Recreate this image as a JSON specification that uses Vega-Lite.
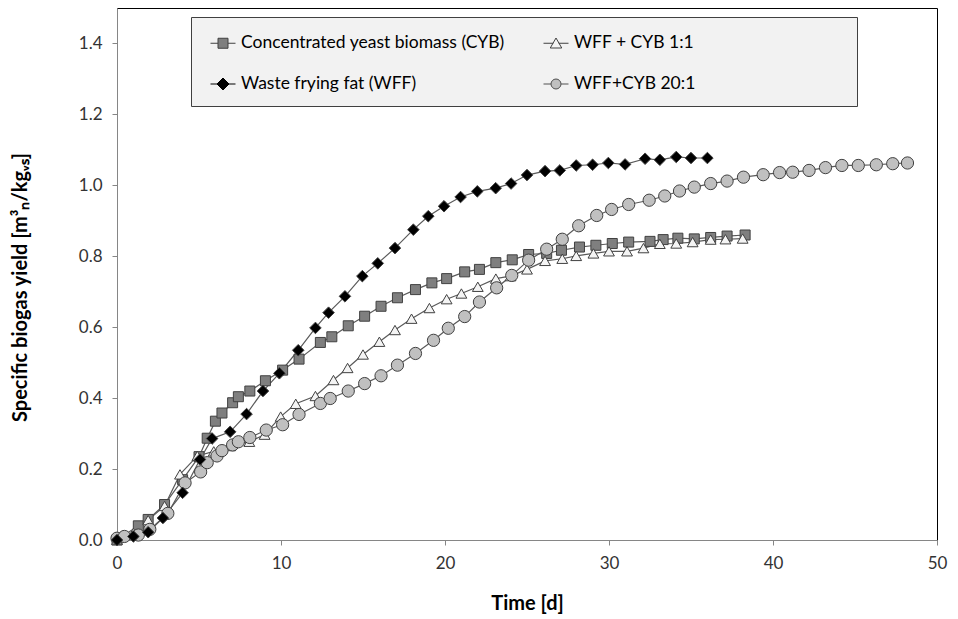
{
  "$schema": "https://vega.github.io/schema/vega-lite/v6.json",
  "width": 820,
  "height": 532,
  "autosize": {"type": "none"},
  "padding": {"left": 117, "top": 8, "right": 21, "bottom": 79},
  "background": "#ffffff",
  "config": {
    "font": "Lato",
    "view": {"stroke": "#000000", "strokeWidth": 1},
    "axis": {"grid": false, "domainColor": "#868686", "tickColor": "#868686", "tickSize": 5, "labelFontSize": 17, "labelColor": "#333333", "titleFontSize": 20, "titleFontWeight": "bold", "titleColor": "#000000", "labelFont": "Lato", "titleFont": "Lato", "labelFlush": false}
  },
  "datasets": {
    "curves": [
      {"s": "Concentrated yeast biomass (CYB)", "t": 0, "y": 0},
      {"s": "Concentrated yeast biomass (CYB)", "t": 1.3, "y": 0.04},
      {"s": "Concentrated yeast biomass (CYB)", "t": 1.9, "y": 0.058},
      {"s": "Concentrated yeast biomass (CYB)", "t": 2.9, "y": 0.1},
      {"s": "Concentrated yeast biomass (CYB)", "t": 4.0, "y": 0.17},
      {"s": "Concentrated yeast biomass (CYB)", "t": 5.0, "y": 0.235},
      {"s": "Concentrated yeast biomass (CYB)", "t": 5.5, "y": 0.287},
      {"s": "Concentrated yeast biomass (CYB)", "t": 6.0, "y": 0.335},
      {"s": "Concentrated yeast biomass (CYB)", "t": 6.4, "y": 0.358},
      {"s": "Concentrated yeast biomass (CYB)", "t": 7.05, "y": 0.387},
      {"s": "Concentrated yeast biomass (CYB)", "t": 7.4, "y": 0.404},
      {"s": "Concentrated yeast biomass (CYB)", "t": 8.1, "y": 0.42},
      {"s": "Concentrated yeast biomass (CYB)", "t": 9.05, "y": 0.449},
      {"s": "Concentrated yeast biomass (CYB)", "t": 10.1, "y": 0.479},
      {"s": "Concentrated yeast biomass (CYB)", "t": 11.1, "y": 0.51},
      {"s": "Concentrated yeast biomass (CYB)", "t": 12.4, "y": 0.557},
      {"s": "Concentrated yeast biomass (CYB)", "t": 13.1, "y": 0.573},
      {"s": "Concentrated yeast biomass (CYB)", "t": 14.1, "y": 0.604},
      {"s": "Concentrated yeast biomass (CYB)", "t": 15.1, "y": 0.631},
      {"s": "Concentrated yeast biomass (CYB)", "t": 16.1, "y": 0.659},
      {"s": "Concentrated yeast biomass (CYB)", "t": 17.1, "y": 0.683},
      {"s": "Concentrated yeast biomass (CYB)", "t": 18.2, "y": 0.706},
      {"s": "Concentrated yeast biomass (CYB)", "t": 19.2, "y": 0.725},
      {"s": "Concentrated yeast biomass (CYB)", "t": 20.1, "y": 0.737},
      {"s": "Concentrated yeast biomass (CYB)", "t": 21.2, "y": 0.756},
      {"s": "Concentrated yeast biomass (CYB)", "t": 22.1, "y": 0.763},
      {"s": "Concentrated yeast biomass (CYB)", "t": 23.1, "y": 0.782},
      {"s": "Concentrated yeast biomass (CYB)", "t": 24.1, "y": 0.79},
      {"s": "Concentrated yeast biomass (CYB)", "t": 25.1, "y": 0.805},
      {"s": "Concentrated yeast biomass (CYB)", "t": 26.2, "y": 0.808},
      {"s": "Concentrated yeast biomass (CYB)", "t": 27.1, "y": 0.817},
      {"s": "Concentrated yeast biomass (CYB)", "t": 28.2, "y": 0.826},
      {"s": "Concentrated yeast biomass (CYB)", "t": 29.2, "y": 0.831},
      {"s": "Concentrated yeast biomass (CYB)", "t": 30.2, "y": 0.836},
      {"s": "Concentrated yeast biomass (CYB)", "t": 31.2, "y": 0.84},
      {"s": "Concentrated yeast biomass (CYB)", "t": 32.5, "y": 0.842},
      {"s": "Concentrated yeast biomass (CYB)", "t": 33.3, "y": 0.847},
      {"s": "Concentrated yeast biomass (CYB)", "t": 34.2, "y": 0.851},
      {"s": "Concentrated yeast biomass (CYB)", "t": 35.2, "y": 0.849},
      {"s": "Concentrated yeast biomass (CYB)", "t": 36.2, "y": 0.853},
      {"s": "Concentrated yeast biomass (CYB)", "t": 37.2, "y": 0.857},
      {"s": "Concentrated yeast biomass (CYB)", "t": 38.3, "y": 0.86},

      {"s": "WFF + CYB 1:1", "t": 0, "y": 0},
      {"s": "WFF + CYB 1:1", "t": 1.0, "y": 0.02},
      {"s": "WFF + CYB 1:1", "t": 1.9, "y": 0.056},
      {"s": "WFF + CYB 1:1", "t": 2.9, "y": 0.096},
      {"s": "WFF + CYB 1:1", "t": 3.84, "y": 0.185},
      {"s": "WFF + CYB 1:1", "t": 4.9, "y": 0.237},
      {"s": "WFF + CYB 1:1", "t": 5.9, "y": 0.25},
      {"s": "WFF + CYB 1:1", "t": 6.9, "y": 0.265},
      {"s": "WFF + CYB 1:1", "t": 8.07, "y": 0.277},
      {"s": "WFF + CYB 1:1", "t": 9.0, "y": 0.297},
      {"s": "WFF + CYB 1:1", "t": 9.98, "y": 0.348},
      {"s": "WFF + CYB 1:1", "t": 10.9, "y": 0.384},
      {"s": "WFF + CYB 1:1", "t": 12.1, "y": 0.406},
      {"s": "WFF + CYB 1:1", "t": 13.2, "y": 0.451},
      {"s": "WFF + CYB 1:1", "t": 14.06, "y": 0.485},
      {"s": "WFF + CYB 1:1", "t": 15.0, "y": 0.523},
      {"s": "WFF + CYB 1:1", "t": 16.0, "y": 0.559},
      {"s": "WFF + CYB 1:1", "t": 16.95, "y": 0.592},
      {"s": "WFF + CYB 1:1", "t": 17.96, "y": 0.624},
      {"s": "WFF + CYB 1:1", "t": 19.05, "y": 0.654},
      {"s": "WFF + CYB 1:1", "t": 20.1, "y": 0.679},
      {"s": "WFF + CYB 1:1", "t": 21.0, "y": 0.695},
      {"s": "WFF + CYB 1:1", "t": 22.0, "y": 0.714},
      {"s": "WFF + CYB 1:1", "t": 23.1, "y": 0.737},
      {"s": "WFF + CYB 1:1", "t": 24.0, "y": 0.744},
      {"s": "WFF + CYB 1:1", "t": 25.0, "y": 0.763},
      {"s": "WFF + CYB 1:1", "t": 26.1, "y": 0.787},
      {"s": "WFF + CYB 1:1", "t": 27.15, "y": 0.793},
      {"s": "WFF + CYB 1:1", "t": 28.0, "y": 0.801},
      {"s": "WFF + CYB 1:1", "t": 29.05, "y": 0.808},
      {"s": "WFF + CYB 1:1", "t": 30.0, "y": 0.814},
      {"s": "WFF + CYB 1:1", "t": 31.1, "y": 0.814},
      {"s": "WFF + CYB 1:1", "t": 32.1, "y": 0.823},
      {"s": "WFF + CYB 1:1", "t": 33.1, "y": 0.835},
      {"s": "WFF + CYB 1:1", "t": 34.1, "y": 0.836},
      {"s": "WFF + CYB 1:1", "t": 35.1, "y": 0.84},
      {"s": "WFF + CYB 1:1", "t": 36.2, "y": 0.847},
      {"s": "WFF + CYB 1:1", "t": 37.1, "y": 0.848},
      {"s": "WFF + CYB 1:1", "t": 38.15, "y": 0.85},

      {"s": "WFF+CYB 20:1", "t": 0, "y": 0.005},
      {"s": "WFF+CYB 20:1", "t": 0.45, "y": 0.01},
      {"s": "WFF+CYB 20:1", "t": 1.3, "y": 0.014},
      {"s": "WFF+CYB 20:1", "t": 2.0, "y": 0.03},
      {"s": "WFF+CYB 20:1", "t": 3.1, "y": 0.075},
      {"s": "WFF+CYB 20:1", "t": 4.15, "y": 0.161},
      {"s": "WFF+CYB 20:1", "t": 5.1, "y": 0.192},
      {"s": "WFF+CYB 20:1", "t": 5.5, "y": 0.218},
      {"s": "WFF+CYB 20:1", "t": 6.1, "y": 0.237},
      {"s": "WFF+CYB 20:1", "t": 6.4, "y": 0.252},
      {"s": "WFF+CYB 20:1", "t": 7.05, "y": 0.268},
      {"s": "WFF+CYB 20:1", "t": 7.4, "y": 0.277},
      {"s": "WFF+CYB 20:1", "t": 8.1, "y": 0.289},
      {"s": "WFF+CYB 20:1", "t": 9.1, "y": 0.31},
      {"s": "WFF+CYB 20:1", "t": 10.1, "y": 0.325},
      {"s": "WFF+CYB 20:1", "t": 11.1, "y": 0.354},
      {"s": "WFF+CYB 20:1", "t": 12.4, "y": 0.385},
      {"s": "WFF+CYB 20:1", "t": 13.0, "y": 0.399},
      {"s": "WFF+CYB 20:1", "t": 14.1, "y": 0.42},
      {"s": "WFF+CYB 20:1", "t": 15.1, "y": 0.441},
      {"s": "WFF+CYB 20:1", "t": 16.1, "y": 0.463},
      {"s": "WFF+CYB 20:1", "t": 17.1, "y": 0.493},
      {"s": "WFF+CYB 20:1", "t": 18.2, "y": 0.526},
      {"s": "WFF+CYB 20:1", "t": 19.3, "y": 0.563},
      {"s": "WFF+CYB 20:1", "t": 20.2, "y": 0.597},
      {"s": "WFF+CYB 20:1", "t": 21.2, "y": 0.63},
      {"s": "WFF+CYB 20:1", "t": 22.1, "y": 0.671},
      {"s": "WFF+CYB 20:1", "t": 23.15, "y": 0.711},
      {"s": "WFF+CYB 20:1", "t": 24.07, "y": 0.746},
      {"s": "WFF+CYB 20:1", "t": 25.1, "y": 0.789},
      {"s": "WFF+CYB 20:1", "t": 26.2, "y": 0.82},
      {"s": "WFF+CYB 20:1", "t": 27.15, "y": 0.848},
      {"s": "WFF+CYB 20:1", "t": 28.15, "y": 0.886},
      {"s": "WFF+CYB 20:1", "t": 29.25, "y": 0.915},
      {"s": "WFF+CYB 20:1", "t": 30.16, "y": 0.932},
      {"s": "WFF+CYB 20:1", "t": 31.2, "y": 0.946},
      {"s": "WFF+CYB 20:1", "t": 32.45, "y": 0.958},
      {"s": "WFF+CYB 20:1", "t": 33.4, "y": 0.97},
      {"s": "WFF+CYB 20:1", "t": 34.3, "y": 0.984},
      {"s": "WFF+CYB 20:1", "t": 35.2, "y": 0.995},
      {"s": "WFF+CYB 20:1", "t": 36.2, "y": 1.005},
      {"s": "WFF+CYB 20:1", "t": 37.2, "y": 1.012},
      {"s": "WFF+CYB 20:1", "t": 38.2, "y": 1.023},
      {"s": "WFF+CYB 20:1", "t": 39.4, "y": 1.03},
      {"s": "WFF+CYB 20:1", "t": 40.4, "y": 1.036},
      {"s": "WFF+CYB 20:1", "t": 41.2, "y": 1.037},
      {"s": "WFF+CYB 20:1", "t": 42.2, "y": 1.042},
      {"s": "WFF+CYB 20:1", "t": 43.2, "y": 1.05},
      {"s": "WFF+CYB 20:1", "t": 44.2, "y": 1.056},
      {"s": "WFF+CYB 20:1", "t": 45.2, "y": 1.056},
      {"s": "WFF+CYB 20:1", "t": 46.3, "y": 1.058},
      {"s": "WFF+CYB 20:1", "t": 47.3, "y": 1.061},
      {"s": "WFF+CYB 20:1", "t": 48.2, "y": 1.063},

      {"s": "Waste frying fat (WFF)", "t": 0, "y": 0},
      {"s": "Waste frying fat (WFF)", "t": 1.0, "y": 0.01},
      {"s": "Waste frying fat (WFF)", "t": 1.9, "y": 0.022},
      {"s": "Waste frying fat (WFF)", "t": 2.8, "y": 0.062},
      {"s": "Waste frying fat (WFF)", "t": 4.0, "y": 0.133},
      {"s": "Waste frying fat (WFF)", "t": 5.06, "y": 0.227},
      {"s": "Waste frying fat (WFF)", "t": 5.8, "y": 0.286},
      {"s": "Waste frying fat (WFF)", "t": 6.9, "y": 0.305},
      {"s": "Waste frying fat (WFF)", "t": 7.9, "y": 0.355},
      {"s": "Waste frying fat (WFF)", "t": 8.9, "y": 0.42},
      {"s": "Waste frying fat (WFF)", "t": 9.9, "y": 0.47},
      {"s": "Waste frying fat (WFF)", "t": 11.05, "y": 0.535},
      {"s": "Waste frying fat (WFF)", "t": 12.1, "y": 0.598},
      {"s": "Waste frying fat (WFF)", "t": 12.9, "y": 0.641},
      {"s": "Waste frying fat (WFF)", "t": 13.9, "y": 0.687},
      {"s": "Waste frying fat (WFF)", "t": 14.96, "y": 0.744},
      {"s": "Waste frying fat (WFF)", "t": 15.9, "y": 0.78},
      {"s": "Waste frying fat (WFF)", "t": 16.95, "y": 0.823},
      {"s": "Waste frying fat (WFF)", "t": 18.07, "y": 0.875},
      {"s": "Waste frying fat (WFF)", "t": 18.98, "y": 0.913},
      {"s": "Waste frying fat (WFF)", "t": 19.94, "y": 0.941},
      {"s": "Waste frying fat (WFF)", "t": 20.95, "y": 0.967},
      {"s": "Waste frying fat (WFF)", "t": 21.97, "y": 0.983},
      {"s": "Waste frying fat (WFF)", "t": 23.09, "y": 0.992},
      {"s": "Waste frying fat (WFF)", "t": 24.03, "y": 1.005},
      {"s": "Waste frying fat (WFF)", "t": 25.0, "y": 1.029},
      {"s": "Waste frying fat (WFF)", "t": 26.1, "y": 1.04},
      {"s": "Waste frying fat (WFF)", "t": 27.0, "y": 1.042},
      {"s": "Waste frying fat (WFF)", "t": 28.0, "y": 1.056},
      {"s": "Waste frying fat (WFF)", "t": 29.0, "y": 1.058},
      {"s": "Waste frying fat (WFF)", "t": 29.96, "y": 1.063},
      {"s": "Waste frying fat (WFF)", "t": 30.98, "y": 1.059},
      {"s": "Waste frying fat (WFF)", "t": 32.2, "y": 1.075},
      {"s": "Waste frying fat (WFF)", "t": 33.1, "y": 1.072},
      {"s": "Waste frying fat (WFF)", "t": 34.1, "y": 1.08},
      {"s": "Waste frying fat (WFF)", "t": 35.0, "y": 1.077},
      {"s": "Waste frying fat (WFF)", "t": 36.0, "y": 1.077}
    ]
  },
  "data": {"name": "curves"},
  "encoding": {
    "x": {"field": "t", "type": "quantitative", "scale": {"domain": [0, 50], "nice": false, "zero": false},
      "axis": {"title": "Time [d]", "values": [0, 10, 20, 30, 40, 50], "labelPadding": 10, "titleY": 63, "titleBaseline": "middle"}},
    "y": {"field": "y", "type": "quantitative", "scale": {"domain": [0, 1.5], "nice": false},
      "axis": {"title": "Specific biogas yield [m³ₙ/kgᵥₛ]", "values": [0, 0.2, 0.4, 0.6, 0.8, 1.0, 1.2, 1.4], "format": ".1f", "labelPadding": 10, "titleX": -97, "titleY": 279, "titleAngle": -90, "titleAlign": "center", "titleBaseline": "middle"}}
  },
  "layer": [
    {
      "mark": {"type": "line", "color": "#5a5a5a", "strokeWidth": 1.2},
      "encoding": {"detail": {"field": "s", "type": "nominal"}}
    },
    {
      "mark": {"type": "point", "filled": true, "opacity": 1, "stroke": "#404040", "strokeWidth": 1},
      "encoding": {
        "shape": {"field": "s", "type": "nominal", "legend": null,
          "scale": {"domain": ["Concentrated yeast biomass (CYB)", "WFF + CYB 1:1", "Waste frying fat (WFF)", "WFF+CYB 20:1"], "range": ["square", "triangle-up", "diamond", "circle"]}},
        "fill": {"field": "s", "type": "nominal", "legend": null,
          "scale": {"domain": ["Concentrated yeast biomass (CYB)", "WFF + CYB 1:1", "Waste frying fat (WFF)", "WFF+CYB 20:1"], "range": ["#7f7f7f", "#f4f4f4", "#000000", "#c0c0c0"]}},
        "size": {"field": "s", "type": "nominal", "legend": null,
          "scale": {"domain": ["Concentrated yeast biomass (CYB)", "WFF + CYB 1:1", "Waste frying fat (WFF)", "WFF+CYB 20:1"], "range": [100, 150, 170, 110]}}
      }
    },
    {
      "mark": {"type": "point", "filled": true, "opacity": 0, "strokeWidth": 1},
      "encoding": {
        "shape": {"field": "s", "type": "nominal",
          "scale": {"domain": ["Concentrated yeast biomass (CYB)", "WFF + CYB 1:1", "Waste frying fat (WFF)", "WFF+CYB 20:1"],
            "range": ["M-1,0H-0.4M0.4,0H1M-0.4,-0.4H0.4V0.4H-0.4Z", "M-1,0H-0.22M0.22,0H1M0,-0.42L0.46,0.38H-0.46Z", "M-1,0H-0.48M0.48,0H1M0,-0.48L0.48,0L0,0.48L-0.48,0Z", "M-1,0H-0.4M0.4,0H1M0.4,0A0.4,0.4,0,1,1,-0.4,0A0.4,0.4,0,1,1,0.4,0Z"]},
          "legend": {"title": null, "orient": "none", "legendX": 74, "legendY": 9, "direction": "horizontal", "columns": 2,
            "fillColor": "#f2f2f2", "strokeColor": "#404040", "padding": 13, "symbolOffset": 6, "symbolSize": 625,
            "symbolOpacity": 1, "symbolStrokeWidth": 1,
            "labelFontSize": 17.5, "labelFont": "Lato", "labelColor": "#000000", "labelOffset": 5, "labelLimit": 600,
            "rowPadding": 19, "columnPadding": 32, "gridAlign": "each",
            "labelExpr": "length(datum.label) < 16 ? datum.label + '\\u00a0\\u00a0\\u00a0\\u00a0\\u00a0\\u00a0\\u00a0\\u00a0\\u00a0\\u00a0\\u00a0\\u00a0\\u00a0\\u00a0\\u00a0\\u00a0\\u00a0\\u00a0\\u00a0\\u00a0\\u00a0\\u00a0\\u00a0\\u00a0\\u00a0\\u00a0\\u00a0\\u00a0\\u00a0\\u00a0\\u00a0\\u00a0\\u00a0\\u200b' : datum.label"}},
        "fill": {"field": "s", "type": "nominal",
          "scale": {"domain": ["Concentrated yeast biomass (CYB)", "WFF + CYB 1:1", "Waste frying fat (WFF)", "WFF+CYB 20:1"], "range": ["#7f7f7f", "#f4f4f4", "#000000", "#c0c0c0"]}},
        "stroke": {"field": "s", "type": "nominal",
          "scale": {"domain": ["Concentrated yeast biomass (CYB)", "WFF + CYB 1:1", "Waste frying fat (WFF)", "WFF+CYB 20:1"], "range": ["#404040", "#404040", "#000000", "#505050"]}}
      }
    }
  ],
  "resolve": {"scale": {"shape": "independent", "fill": "independent", "size": "independent", "stroke": "independent"}}
}
